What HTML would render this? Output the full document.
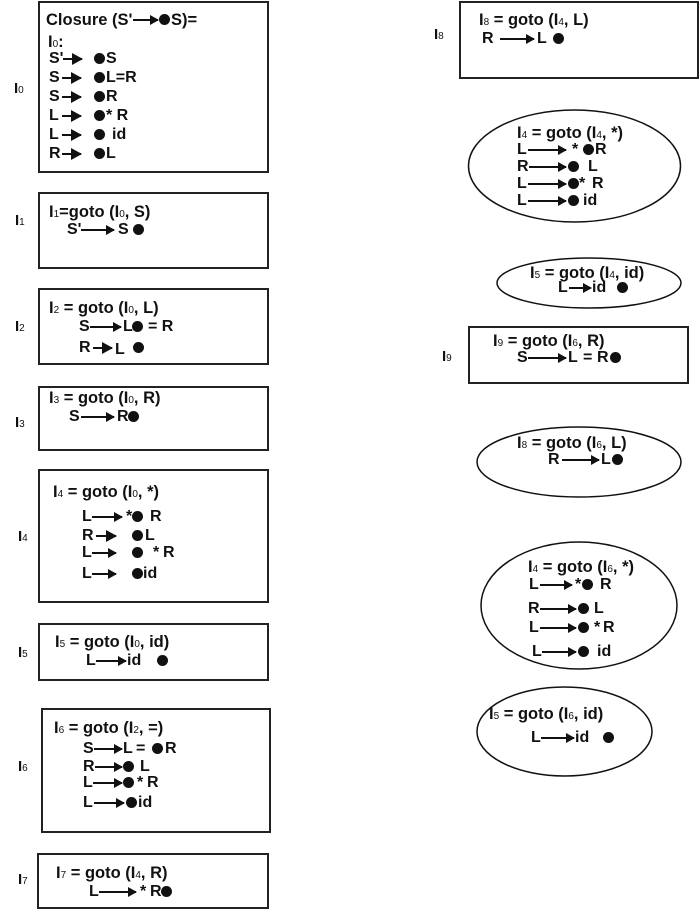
<!DOCTYPE html>
<html><head><meta charset="utf-8">
<style>
html,body{margin:0;padding:0;background:#fff;}
#c{position:relative;width:700px;height:910px;overflow:hidden;background:#fff;}
svg.bg{position:absolute;left:0;top:0;}
.t{position:absolute;font-family:"Liberation Sans",Arial,sans-serif;font-weight:bold;font-size:16px;line-height:18px;color:#111;white-space:nowrap;}
.h{font-size:16.5px;}
.l{font-size:15px;}
.s{font-size:10px;font-weight:normal;}
.d{position:absolute;width:11px;height:11px;border-radius:50%;background:#111;}
.a{position:absolute;height:2px;background:#111;}
.a::after{content:"";position:absolute;right:-1px;top:-4px;border-left:9px solid #111;border-top:5px solid transparent;border-bottom:5px solid transparent;}
.a.f::after{top:-5px;border-left:11px solid #111;border-top:6px solid transparent;border-bottom:6px solid transparent;}
</style></head>
<body><div id="c">
<svg class="bg" width="700" height="910" xmlns="http://www.w3.org/2000/svg">
<g fill="none" stroke="#222" stroke-width="2">
<rect x="39" y="2" width="229" height="170"/>
<rect x="39" y="193" width="229" height="75"/>
<rect x="39" y="289" width="229" height="75"/>
<rect x="39" y="387" width="229" height="63"/>
<rect x="39" y="470" width="229" height="132"/>
<rect x="39" y="624" width="229" height="56"/>
<rect x="42" y="709" width="228" height="123"/>
<rect x="38" y="854" width="230" height="54"/>
<rect x="460" y="2" width="238" height="76"/>
<rect x="469" y="327" width="219" height="56"/>
</g>
<g fill="none" stroke="#111" stroke-width="1.5">
<ellipse cx="574.5" cy="166" rx="106" ry="56"/>
<ellipse cx="589" cy="283" rx="92" ry="25"/>
<ellipse cx="579" cy="462" rx="102" ry="35"/>
<ellipse cx="579" cy="605.5" rx="98" ry="63.5"/>
<ellipse cx="564.5" cy="731.5" rx="87.5" ry="44.5"/>
</g>
</svg>

<!-- labels -->
<div class="t l" style="left:14px;top:80px">I<span class="s">0</span></div>
<div class="t l" style="left:15px;top:212px">I<span class="s">1</span></div>
<div class="t l" style="left:15px;top:318px">I<span class="s">2</span></div>
<div class="t l" style="left:15px;top:414px">I<span class="s">3</span></div>
<div class="t l" style="left:18px;top:528px">I<span class="s">4</span></div>
<div class="t l" style="left:18px;top:644px">I<span class="s">5</span></div>
<div class="t l" style="left:18px;top:758px">I<span class="s">6</span></div>
<div class="t l" style="left:18px;top:871px">I<span class="s">7</span></div>
<div class="t l" style="left:434px;top:26px">I<span class="s">8</span></div>
<div class="t l" style="left:442px;top:348px">I<span class="s">9</span></div>

<!-- I0 -->
<div class="t h" style="left:46px;top:11px">Closure (S'</div>
<div class="a" style="left:133px;top:19px;width:25px"></div>
<div class="d" style="left:159px;top:14px"></div>
<div class="t h" style="left:171px;top:11px">S)=</div>
<div class="t h" style="left:48px;top:33px">I<span class="s">0</span>:</div>

<div class="t" style="left:49px;top:50px">S'</div>
<div class="a f" style="left:63px;top:58px;width:19px"></div>
<div class="d" style="left:94px;top:53px"></div>
<div class="t" style="left:106px;top:50px">S</div>

<div class="t" style="left:49px;top:69px">S</div>
<div class="a f" style="left:62px;top:77px;width:19px"></div>
<div class="d" style="left:94px;top:72px"></div>
<div class="t" style="left:106px;top:69px">L=R</div>

<div class="t" style="left:49px;top:88px">S</div>
<div class="a f" style="left:62px;top:96px;width:19px"></div>
<div class="d" style="left:94px;top:91px"></div>
<div class="t" style="left:106px;top:88px">R</div>

<div class="t" style="left:49px;top:107px">L</div>
<div class="a f" style="left:62px;top:115px;width:19px"></div>
<div class="d" style="left:94px;top:110px"></div>
<div class="t" style="left:106px;top:107px">* R</div>

<div class="t" style="left:49px;top:126px">L</div>
<div class="a f" style="left:62px;top:134px;width:19px"></div>
<div class="d" style="left:94px;top:129px"></div>
<div class="t" style="left:112px;top:126px">id</div>

<div class="t" style="left:49px;top:145px">R</div>
<div class="a f" style="left:62px;top:153px;width:19px"></div>
<div class="d" style="left:94px;top:148px"></div>
<div class="t" style="left:106px;top:145px">L</div>

<!-- I1 -->
<div class="t h" style="left:49px;top:203px">I<span class="s">1</span>=goto (I<span class="s">0</span>, S)</div>
<div class="t" style="left:67px;top:221px">S'</div>
<div class="a" style="left:81px;top:229px;width:33px"></div>
<div class="t" style="left:118px;top:221px">S</div>
<div class="d" style="left:133px;top:224px"></div>

<!-- I2 -->
<div class="t h" style="left:49px;top:299px">I<span class="s">2</span> = goto (I<span class="s">0</span>, L)</div>
<div class="t" style="left:79px;top:318px">S</div>
<div class="a" style="left:90px;top:326px;width:31px"></div>
<div class="t" style="left:123px;top:318px">L</div>
<div class="d" style="left:132px;top:321px"></div>
<div class="t" style="left:148px;top:318px">= R</div>
<div class="t" style="left:79px;top:339px">R</div>
<div class="a f" style="left:93px;top:347px;width:19px"></div>
<div class="t" style="left:115px;top:341px">L</div>
<div class="d" style="left:133px;top:342px"></div>

<!-- I3 -->
<div class="t h" style="left:49px;top:389px">I<span class="s">3</span> = goto (I<span class="s">0</span>, R)</div>
<div class="t" style="left:69px;top:408px">S</div>
<div class="a" style="left:81px;top:416px;width:33px"></div>
<div class="t" style="left:117px;top:408px">R</div>
<div class="d" style="left:128px;top:411px"></div>

<!-- I4 -->
<div class="t h" style="left:53px;top:483px">I<span class="s">4</span> = goto (I<span class="s">0</span>, *)</div>
<div class="t" style="left:82px;top:508px">L</div>
<div class="a" style="left:92px;top:516px;width:30px"></div>
<div class="t" style="left:126px;top:508px">*</div>
<div class="d" style="left:132px;top:511px"></div>
<div class="t" style="left:150px;top:508px">R</div>

<div class="t" style="left:82px;top:527px">R</div>
<div class="a f" style="left:96px;top:535px;width:20px"></div>
<div class="d" style="left:132px;top:530px"></div>
<div class="t" style="left:145px;top:527px">L</div>

<div class="t" style="left:82px;top:544px">L</div>
<div class="a" style="left:92px;top:552px;width:24px"></div>
<div class="d" style="left:132px;top:547px"></div>
<div class="t" style="left:153px;top:544px">*</div>
<div class="t" style="left:163px;top:544px">R</div>

<div class="t" style="left:82px;top:565px">L</div>
<div class="a" style="left:92px;top:573px;width:24px"></div>
<div class="d" style="left:132px;top:568px"></div>
<div class="t" style="left:143px;top:565px">id</div>

<!-- I5 -->
<div class="t h" style="left:55px;top:633px">I<span class="s">5</span> = goto (I<span class="s">0</span>, id)</div>
<div class="t" style="left:86px;top:652px">L</div>
<div class="a" style="left:96px;top:660px;width:30px"></div>
<div class="t" style="left:127px;top:652px">id</div>
<div class="d" style="left:157px;top:655px"></div>

<!-- I6 -->
<div class="t h" style="left:54px;top:719px">I<span class="s">6</span> = goto (I<span class="s">2</span>, =)</div>
<div class="t" style="left:83px;top:740px">S</div>
<div class="a" style="left:94px;top:748px;width:28px"></div>
<div class="t" style="left:123px;top:740px">L</div>
<div class="t" style="left:136px;top:740px">=</div>
<div class="d" style="left:152px;top:743px"></div>
<div class="t" style="left:165px;top:740px">R</div>

<div class="t" style="left:83px;top:758px">R</div>
<div class="a" style="left:95px;top:766px;width:27px"></div>
<div class="d" style="left:123px;top:761px"></div>
<div class="t" style="left:140px;top:758px">L</div>

<div class="t" style="left:83px;top:774px">L</div>
<div class="a" style="left:93px;top:782px;width:29px"></div>
<div class="d" style="left:123px;top:777px"></div>
<div class="t" style="left:137px;top:774px">*</div>
<div class="t" style="left:147px;top:774px">R</div>

<div class="t" style="left:83px;top:794px">L</div>
<div class="a" style="left:94px;top:802px;width:30px"></div>
<div class="d" style="left:126px;top:797px"></div>
<div class="t" style="left:138px;top:794px">id</div>

<!-- I7 -->
<div class="t h" style="left:56px;top:864px">I<span class="s">7</span> = goto (I<span class="s">4</span>, R)</div>
<div class="t" style="left:89px;top:883px">L</div>
<div class="a" style="left:99px;top:891px;width:37px"></div>
<div class="t" style="left:140px;top:883px">*</div>
<div class="t" style="left:150px;top:883px">R</div>
<div class="d" style="left:161px;top:886px"></div>

<!-- I8 box -->
<div class="t h" style="left:479px;top:11px">I<span class="s">8</span> = goto (I<span class="s">4</span>, L)</div>
<div class="t" style="left:482px;top:30px">R</div>
<div class="a" style="left:500px;top:38px;width:34px"></div>
<div class="t" style="left:537px;top:30px">L</div>
<div class="d" style="left:553px;top:33px"></div>

<!-- E1 -->
<div class="t h" style="left:517px;top:124px">I<span class="s">4</span> = goto (I<span class="s">4</span>, *)</div>
<div class="t" style="left:517px;top:141px">L</div>
<div class="a" style="left:528px;top:149px;width:38px"></div>
<div class="t" style="left:572px;top:141px">*</div>
<div class="d" style="left:583px;top:144px"></div>
<div class="t" style="left:595px;top:141px">R</div>

<div class="t" style="left:517px;top:158px">R</div>
<div class="a" style="left:529px;top:166px;width:37px"></div>
<div class="d" style="left:568px;top:161px"></div>
<div class="t" style="left:588px;top:158px">L</div>

<div class="t" style="left:517px;top:175px">L</div>
<div class="a" style="left:528px;top:183px;width:38px"></div>
<div class="d" style="left:568px;top:178px"></div>
<div class="t" style="left:579px;top:175px">*</div>
<div class="t" style="left:592px;top:175px">R</div>

<div class="t" style="left:517px;top:192px">L</div>
<div class="a" style="left:528px;top:200px;width:38px"></div>
<div class="d" style="left:568px;top:195px"></div>
<div class="t" style="left:583px;top:192px">id</div>

<!-- E2 -->
<div class="t h" style="left:530px;top:264px">I<span class="s">5</span> = goto (I<span class="s">4</span>, id)</div>
<div class="t" style="left:558px;top:279px">L</div>
<div class="a" style="left:569px;top:287px;width:22px"></div>
<div class="t" style="left:592px;top:279px">id</div>
<div class="d" style="left:617px;top:282px"></div>

<!-- I9 -->
<div class="t h" style="left:493px;top:332px">I<span class="s">9</span> = goto (I<span class="s">6</span>, R)</div>
<div class="t" style="left:517px;top:349px">S</div>
<div class="a" style="left:528px;top:357px;width:38px"></div>
<div class="t" style="left:568px;top:349px">L</div>
<div class="t" style="left:583px;top:349px">=</div>
<div class="t" style="left:597px;top:349px">R</div>
<div class="d" style="left:610px;top:352px"></div>

<!-- E3 -->
<div class="t h" style="left:517px;top:434px">I<span class="s">8</span> = goto (I<span class="s">6</span>, L)</div>
<div class="t" style="left:548px;top:451px">R</div>
<div class="a" style="left:562px;top:459px;width:37px"></div>
<div class="t" style="left:601px;top:451px">L</div>
<div class="d" style="left:612px;top:454px"></div>

<!-- E4 -->
<div class="t h" style="left:528px;top:558px">I<span class="s">4</span> = goto (I<span class="s">6</span>, *)</div>
<div class="t" style="left:529px;top:576px">L</div>
<div class="a" style="left:540px;top:584px;width:32px"></div>
<div class="t" style="left:575px;top:576px">*</div>
<div class="d" style="left:582px;top:579px"></div>
<div class="t" style="left:600px;top:576px">R</div>

<div class="t" style="left:528px;top:600px">R</div>
<div class="a" style="left:540px;top:608px;width:36px"></div>
<div class="d" style="left:578px;top:603px"></div>
<div class="t" style="left:594px;top:600px">L</div>

<div class="t" style="left:529px;top:619px">L</div>
<div class="a" style="left:540px;top:627px;width:36px"></div>
<div class="d" style="left:578px;top:622px"></div>
<div class="t" style="left:594px;top:619px">*</div>
<div class="t" style="left:603px;top:619px">R</div>

<div class="t" style="left:532px;top:643px">L</div>
<div class="a" style="left:542px;top:651px;width:34px"></div>
<div class="d" style="left:578px;top:646px"></div>
<div class="t" style="left:597px;top:643px">id</div>

<!-- E5 -->
<div class="t h" style="left:489px;top:705px">I<span class="s">5</span> = goto (I<span class="s">6</span>, id)</div>
<div class="t" style="left:531px;top:729px">L</div>
<div class="a" style="left:541px;top:737px;width:33px"></div>
<div class="t" style="left:575px;top:729px">id</div>
<div class="d" style="left:603px;top:732px"></div>

</div></body></html>
